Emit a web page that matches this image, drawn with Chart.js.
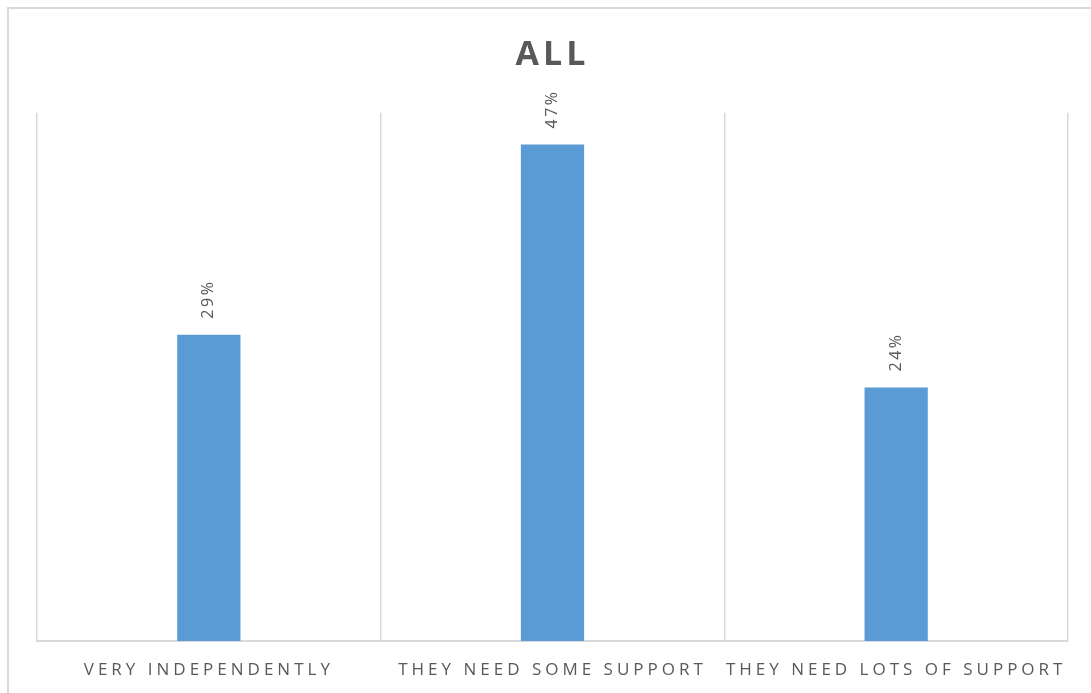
<!DOCTYPE html>
<html>
<head>
<meta charset="utf-8">
<script src="https://cdn.jsdelivr.net/npm/chart.js@4"></script>
<style>
    html, body { margin: 0; padding: 0; background: #fff; overflow: hidden; }
    #wrap { position: relative; width: 1091px; height: 693px; }
    #frame {
        position: absolute; left: 7px; top: 7px; width: 1100px; height: 700px;
        border: 2px solid #d9d9d9; box-sizing: border-box; pointer-events: none;
    }
    canvas { position: absolute; left: 0; top: 0; }
</style>
</head>
<body>
<div id="wrap">
    <canvas id="chart" width="1091" height="693"></canvas>
    <div id="frame"></div>
</div>
<script>
// Data
const categories = ['VERY INDEPENDENTLY', 'THEY NEED SOME SUPPORT', 'THEY NEED LOTS OF SUPPORT'];
const shares = [29, 47, 24];
const chartTitle = 'ALL';

const TEXT_GREY = '#595959';
const BAR_BLUE = '#5b9bd5';

// spaced-out capitals like the office chart style
const letterSpacing = {
    id: 'letterSpacing',
    beforeDraw(chart) {
        chart.ctx.letterSpacing = '4px';
    },
    afterDraw(chart) {
        chart.ctx.letterSpacing = '0px';
    }
};

// rotated value labels above each bar
const valueLabels = {
    id: 'valueLabels',
    afterDatasetsDraw(chart) {
        const ctx = chart.ctx;
        const meta = chart.getDatasetMeta(0);
        meta.data.forEach((bar, i) => {
            ctx.save();
            ctx.letterSpacing = '2.5px';
            ctx.translate(bar.x, bar.y - 16);
            ctx.rotate(-Math.PI / 2);
            ctx.font = '16px "Open Sans"';
            ctx.fillStyle = TEXT_GREY;
            ctx.textAlign = 'left';
            ctx.textBaseline = 'middle';
            ctx.fillText(shares[i] + '%', 0, 0);
            ctx.restore();
        });
    }
};

new Chart(document.getElementById('chart').getContext('2d'), {
    type: 'bar',
    data: {
        labels: categories,
        datasets: [{
            data: shares,
            backgroundColor: BAR_BLUE,
            borderWidth: 0,
            categoryPercentage: 1,
            barPercentage: 0.184
        }]
    },
    options: {
        responsive: false,
        animation: false,
        layout: { padding: { left: 37, right: 23, top: 20, bottom: 0 } },
        plugins: {
            legend: { display: false },
            tooltip: { enabled: false },
            title: {
                display: true,
                text: chartTitle,
                color: TEXT_GREY,
                font: { family: '"Open Sans"', size: 34, weight: 'bold', lineHeight: 1.2 },
                padding: { top: 15, bottom: 37 }
            }
        },
        scales: {
            x: {
                offset: true,
                grid: { offset: true, drawTicks: false, color: '#d9d9d9', lineWidth: 1.5 },
                border: { color: '#d9d9d9', width: 2 },
                ticks: {
                    color: TEXT_GREY,
                    font: { family: '"Open Sans"', size: 17, lineHeight: 1.2 },
                    padding: 19,
                    maxRotation: 0,
                    autoSkip: false
                },
                afterFit(scale) {
                    scale.height = 52;
                }
            },
            y: {
                display: false,
                min: 0,
                max: 50
            }
        }
    },
    plugins: [letterSpacing, valueLabels]
});
</script>
</body>
</html>
